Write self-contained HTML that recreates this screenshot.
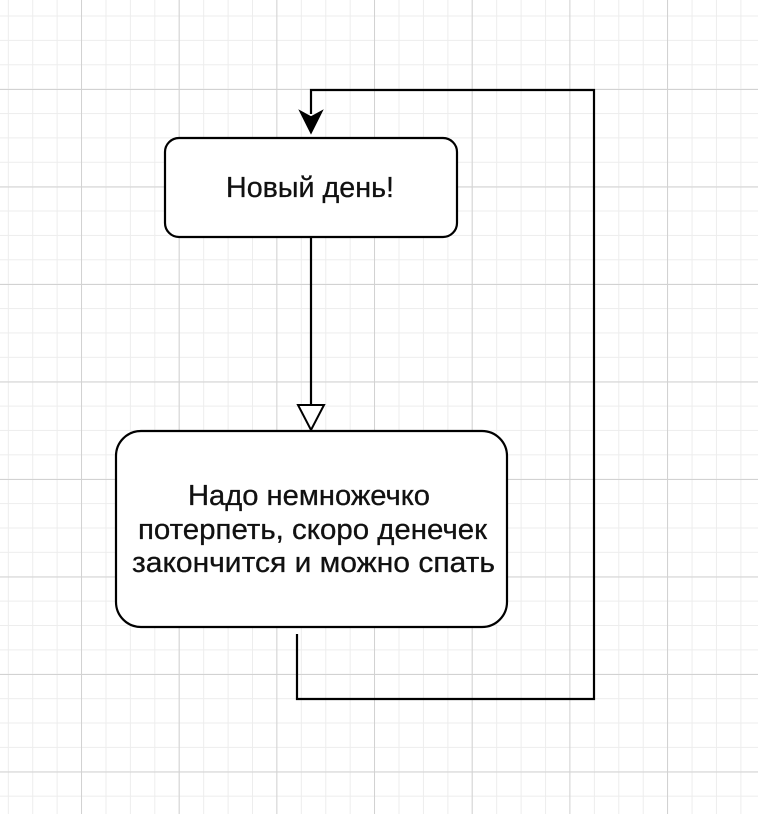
<!DOCTYPE html>
<html><head><meta charset="utf-8"><style>
html,body{margin:0;padding:0;background:#fff;}
svg{display:block;}
text{font-family:"Liberation Sans",Arial,sans-serif;fill:#111;stroke:#111;stroke-width:0.3;}
</style></head><body>
<svg width="758" height="814" viewBox="0 0 758 814" xmlns="http://www.w3.org/2000/svg">
<defs>
<pattern id="minor" x="7.8" y="15.5" width="24.42" height="24.38" patternUnits="userSpaceOnUse">
<path d="M0 0V24.38M0 0H24.42" stroke="#ededed" stroke-width="2" fill="none"/>
</pattern>
<pattern id="major" x="81" y="89" width="97.67" height="97.5" patternUnits="userSpaceOnUse">
<path d="M0 0V97.5M0 0H97.67" stroke="#d2d2d2" stroke-width="2" fill="none"/>
</pattern>
</defs>
<rect width="758" height="814" fill="#fff"/>
<rect width="758" height="814" fill="url(#minor)"/>
<rect width="758" height="814" fill="url(#major)"/>

<!-- loop connector -->
<path d="M297 634V699H594V90H311V114" stroke="#000" stroke-width="2.2" fill="none"/>
<path d="M300 111L311 133L322 111L311 117Z" fill="#000" stroke="#000" stroke-width="1.5" stroke-linejoin="miter"/>

<!-- box 1 -->
<rect x="165" y="138" width="292" height="99" rx="14" ry="14" fill="#fff" stroke="#000" stroke-width="2.2"/>
<text x="226" y="197" font-size="29" textLength="168" lengthAdjust="spacingAndGlyphs">Новый день!</text>

<!-- connector box1 -> box2 -->
<path d="M311 237V405" stroke="#000" stroke-width="2.2" fill="none"/>
<path d="M298 405H324L311 430Z" fill="#fff" stroke="#000" stroke-width="2"/>

<!-- box 2 -->
<rect x="116" y="431" width="391" height="196" rx="25" ry="25" fill="#fff" stroke="#000" stroke-width="2.2"/>
<text x="188" y="505" font-size="28.5" textLength="242" lengthAdjust="spacingAndGlyphs">Надо немножечко</text>
<text x="138" y="539" font-size="28.5" textLength="349" lengthAdjust="spacingAndGlyphs">потерпеть, скоро денечек</text>
<text x="132" y="572" font-size="28.5" textLength="363" lengthAdjust="spacingAndGlyphs">закончится и можно спать</text>
</svg>
</body></html>
